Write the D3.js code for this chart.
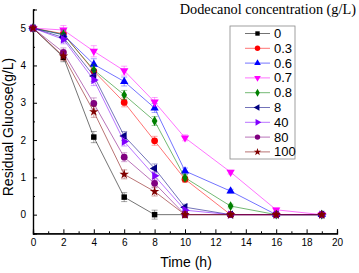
<!DOCTYPE html>
<html><head><meta charset="utf-8">
<script src="https://cdn.jsdelivr.net/npm/d3@7"></script>
<style>body{margin:0;background:#fff}svg{display:block}</style>
</head><body><svg id="c" width="359" height="273"></svg>
<script>
const times = [0, 2, 4, 6, 8, 10, 13, 16, 19];
const seriesNames = ["0", "0.3", "0.6", "0.7", "0.8", "8", "40", "80", "100"];
const s0   = [5, 4.22, 2.08, 0.47, 0, 0, 0, 0, 0];
const s03  = [5, 4.85, 3.85, 3.01, 1.98, 0.95, 0, 0, 0];
const s06  = [5, 4.82, 4.03, 3.57, 2.86, 1.17, 0.63, 0, 0];
const s07  = [5, 4.95, 4.38, 3.86, 3.02, 2.06, 1.14, 0.13, 0];
const s08  = [5, 4.83, 3.88, 3.21, 2.51, 0.99, 0.23, 0, 0];
const s8   = [5, 4.75, 3.72, 2.11, 1.24, 0.2, 0, 0, 0];
const s40  = [5, 4.70, 3.61, 1.96, 1.04, 0.12, 0, 0, 0];
const s80  = [5, 4.35, 2.98, 1.54, 0.84, 0, 0, 0, 0];
const s100 = [5, 4.25, 2.76, 1.08, 0.62, 0, 0, 0, 0];
const errs = [0, 0.12, 0.15, 0.12, 0.12, 0.08, 0.05, 0.05, 0.03];
const xTicks = [0, 2, 4, 6, 8, 10, 12, 14, 16, 18, 20];
const yTicks = [0, 1, 2, 3, 4, 5];
const colors = ["#000000", "#ff0000", "#0000ff", "#ff00ff", "#008000", "#000080", "#8000ff", "#800080", "#800000"];
const allSeries = [s0, s03, s06, s07, s08, s8, s40, s80, s100];

const svg = d3.select("#c");
const x = d3.scaleLinear().domain([0, 20]).range([33, 337]);
const y = d3.scaleLinear().domain([-0.5, 5.5]).range([233.3, 9.5]);

// axes
const xa = svg.append("g").attr("transform", "translate(0,233.3)")
  .call(d3.axisBottom(x).tickValues(xTicks).tickSize(-4).tickPadding(6).tickFormat(d3.format("d")));
const xm = svg.append("g").attr("transform", "translate(0,233.3)")
  .call(d3.axisBottom(x).tickValues(d3.range(1, 20, 2)).tickSize(-2).tickFormat(""));
const ya = svg.append("g").attr("transform", "translate(33,0)")
  .call(d3.axisLeft(y).tickValues(yTicks).tickSize(-4).tickPadding(7).tickFormat(d3.format("d")));
const ym = svg.append("g").attr("transform", "translate(33,0)")
  .call(d3.axisLeft(y).tickValues([-0.5, 0.5, 1.5, 2.5, 3.5, 4.5, 5.5]).tickSize(-2).tickFormat(""));
[xa, xm, ya, ym].forEach(g => {
  g.selectAll("path").attr("stroke", "#000").attr("stroke-width", 1.2);
  g.selectAll("line").attr("stroke", "#000");
  g.selectAll("text").attr("font-family", "Arial, Liberation Sans, sans-serif").attr("font-size", 10).attr("fill", "#000");
});

svg.append("text").attr("x", 186).attr("y", 267).attr("text-anchor", "middle")
  .attr("font-family", "Arial, Liberation Sans, sans-serif").attr("font-size", 14).text("Time (h)");
svg.append("text").attr("transform", "translate(13,127) rotate(-90)").attr("text-anchor", "middle")
  .attr("font-family", "Arial, Liberation Sans, sans-serif").attr("font-size", 14).text("Residual Glucose(g/L)");
svg.append("text").attr("x", 356).attr("y", 14).attr("text-anchor", "end")
  .attr("font-family", "Liberation Serif, Times New Roman, serif").attr("font-size", 14.3).text("Dodecanol concentration (g/L)");

function sym(i) {
  const types = [d3.symbolSquare, d3.symbolCircle, d3.symbolTriangle, d3.symbolTriangle, d3.symbolDiamond,
                 d3.symbolTriangle, d3.symbolTriangle, d3.symbolCircle, d3.symbolStar];
  const sizes = [30, 36, 30, 30, 28, 30, 30, 36, 28];
  const rots = [0, 0, 0, 180, 0, -90, 90, 0, 0];
  return { path: d3.symbol().type(types[i]).size(sizes[i])(), rot: rots[i] };
}

const line = d3.line().x((d, j) => x(times[j])).y(d => y(d));
allSeries.forEach((vals, i) => {
  const g = svg.append("g");
  g.append("path").datum(vals).attr("d", line).attr("fill", "none")
    .attr("stroke", colors[i]).attr("stroke-opacity", 0.55).attr("stroke-width", 1);
  // error bars
  vals.forEach((v, j) => {
    const e = errs[j];
    if (e <= 0) return;
    const cx = x(times[j]);
    const eg = g.append("g").attr("stroke", colors[i]).attr("stroke-opacity", 0.45).attr("stroke-width", 0.8);
    eg.append("line").attr("x1", cx).attr("x2", cx).attr("y1", y(v + e)).attr("y2", y(v - e));
    eg.append("line").attr("x1", cx - 3).attr("x2", cx + 3).attr("y1", y(v + e)).attr("y2", y(v + e));
    eg.append("line").attr("x1", cx - 3).attr("x2", cx + 3).attr("y1", y(v - e)).attr("y2", y(v - e));
  });
  const s = sym(i);
  vals.forEach((v, j) => {
    g.append("path").attr("d", s.path)
      .attr("transform", `translate(${x(times[j])},${y(v)}) rotate(${s.rot})`)
      .attr("fill", colors[i]);
  });
});

// legend
const lg = svg.append("g");
lg.append("rect").attr("x", 230).attr("y", 26).attr("width", 65).attr("height", 133)
  .attr("fill", "#fff").attr("stroke", "#888").attr("stroke-width", 0.8);
seriesNames.forEach((n, i) => {
  const ly = 33.5 + i * 14.8;
  lg.append("line").attr("x1", 245).attr("x2", 270).attr("y1", ly).attr("y2", ly)
    .attr("stroke", colors[i]).attr("stroke-opacity", 0.55).attr("stroke-width", 1);
  const s = sym(i);
  lg.append("path").attr("d", s.path).attr("transform", `translate(257.5,${ly}) rotate(${s.rot}) scale(0.8)`)
    .attr("fill", colors[i]);
  lg.append("text").attr("x", 274).attr("y", ly + 4.5)
    .attr("font-family", "Arial, Liberation Sans, sans-serif").attr("font-size", 13).text(n);
});
</script></body></html>
